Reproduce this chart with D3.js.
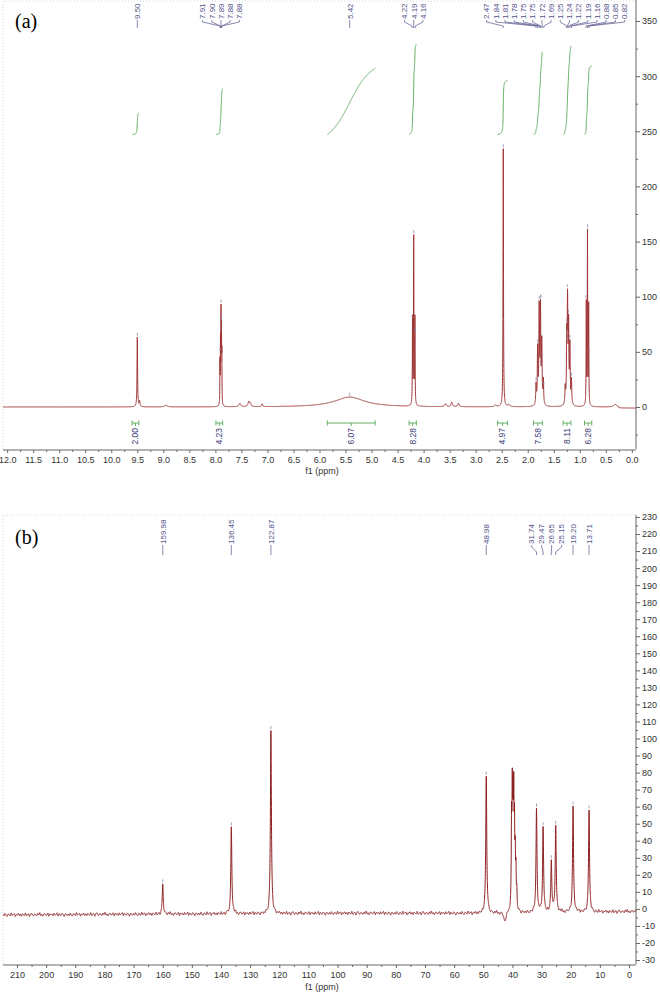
<!DOCTYPE html>
<html>
<head>
<meta charset="utf-8">
<script src="https://cdn.jsdelivr.net/npm/d3@7"></script>
<style>
body { margin: 0; background: #fff; }
svg { display: block; }
.ax text { font-family: "Liberation Sans", Arial, sans-serif; font-size: 9px; fill: #333; }
.ax line { stroke: #666; }
.plab { font-family: "Liberation Sans", Arial, sans-serif; font-size: 8px; fill: #50508a; }
</style>
</head>
<body>
<svg width="660" height="992"></svg>
<script>
// ---- (a) 1H spectrum: lines (ppm, height, half width) ----
var hPpm    = [9.50, 9.455, 8.95, 7.912, 7.902, 7.892, 7.883, 7.876, 7.53, 7.36, 7.33, 7.10, 5.42,
               4.213, 4.19, 4.167, 3.58, 3.46, 3.33, 2.62, 2.47, 2.36,
               1.84, 1.81, 1.78, 1.755, 1.73, 1.70, 1.28, 1.25, 1.235, 1.215, 1.19, 1.16,
               0.875, 0.852, 0.829, 0.32];
var hHeight = [63, 5, 1.5, 38, 55, 80, 62, 42, 3, 4.5, 3, 2.5, 9,
               78, 151, 78, 2.5, 4, 3, 1.5, 234, 2,
               18, 50, 86, 86, 55, 22, 15, 55, 88, 68, 52, 22,
               92, 156, 90, 2.5];
var hWidth  = [0.006, 0.008, 0.03, 0.003, 0.003, 0.003, 0.003, 0.003, 0.02, 0.015, 0.015, 0.01, 0.35,
               0.004, 0.004, 0.004, 0.02, 0.015, 0.015, 0.02, 0.005, 0.02,
               0.007, 0.007, 0.007, 0.007, 0.007, 0.007, 0.007, 0.007, 0.007, 0.007, 0.007, 0.007,
               0.004, 0.004, 0.004, 0.03];
var hLabels = ["9.50", "7.91", "7.90", "7.89", "7.88", "7.88", "5.42", "4.22", "4.19", "4.16",
               "2.47", "1.84", "1.81", "1.78", "1.75", "1.75", "1.72", "1.69",
               "1.25", "1.24", "1.22", "1.19", "1.16", "0.88", "0.85", "0.82"];
var intFrom = [9.60, 7.99, 5.85, 4.28, 2.58, 1.89, 1.32, 0.91];
var intTo   = [9.47, 7.86, 4.93, 4.14, 2.39, 1.72, 1.17, 0.77];
var intVal  = [2.00, 4.23, 6.07, 8.28, 4.97, 7.58, 8.11, 6.28];

// ---- (b) 13C spectrum ----
var cPpm    = [159.98, 136.45, 122.87, 48.98, 42.6,
               40.3, 40.05, 39.8, 39.55, 39.3, 39.05, 38.8, 38.5,
               31.74, 29.47, 26.65, 25.15, 19.20, 13.71];
var cHeight = [17.5, 51, 108, 81, -6,
               48, 62, 52, 58, 42, 28, 20, 10,
               60, 50, 30, 51, 62, 60];
var cWidth  = [0.2, 0.2, 0.2, 0.2, 0.4,
               0.12, 0.12, 0.12, 0.12, 0.12, 0.12, 0.12, 0.12,
               0.2, 0.2, 0.2, 0.2, 0.2, 0.2];
var cLabels = ["159.98", "136.45", "122.87", "48.98", "31.74", "29.47", "26.65", "25.15", "19.20", "13.71"];
var cBasePpm = [214.8, 160, 100, 50, 0, -2.4];
var cBaseVal = [-3.5, -3, -2.5, -2.5, -1.5, -1.5];
var cNoise = [0.4, -0.8, 1.1, -0.3, -1.2, 0.6, 0.2, -0.9, 1.4, -0.5, 0.1, 0.9, -1.3, 0.3, -0.2, 1.0,
              -0.7, 0.5, -1.1, 0.8, -0.1, -0.6, 1.3, -0.9, 0.2, 0.7, -1.4, 0.4, 1.2, -0.4, -0.8, 0.6,
              0.0, -1.0, 0.9, -0.3, 1.5, -0.7, 0.3, -1.2, 0.5, 0.8, -0.5, -0.2, 1.1, -1.3, 0.6, -0.1,
              0.4, -0.9, 1.0, -0.6, 0.2, 1.3, -1.1, 0.7, -0.4, -0.7, 0.9, 0.1, -1.5, 0.5, 0.3, -0.8];

var svg = d3.select("svg");

var xA = d3.scaleLinear().domain([12.08, -0.08]).range([3, 636]),
    yA = d3.scaleLinear().domain([0, 350]).range([407, 21]);
var xB = d3.scaleLinear().domain([214.8, -2.4]).range([3, 636]),
    yB = d3.scaleLinear().domain([-30, 230]).range([960, 517]);

function lorentz(p, pos, h, w) {
    var s = 0;
    for (var i = 0; i < pos.length; i++) {
        var d = p - pos[i];
        s += h[i] * w[i] * w[i] / (d * d + w[i] * w[i]);
    }
    return s;
}

// sample the spectra
var specA = [];
for (var p = 12.08; p >= -0.08; p -= 0.001) {
    var base = p < 0.25 ? -1 : 0;
    specA.push([p, lorentz(p, hPpm, hHeight, hWidth) + base]);
}
var baseB = d3.scaleLinear().domain(cBasePpm).range(cBaseVal);
function noiseAt(p) {
    var t = (214.8 - p) / 0.35, i = Math.floor(t), f = t - i, n = cNoise.length;
    return cNoise[i % n] * (1 - f) + cNoise[(i + 1) % n] * f;
}
var specB = [];
for (var q = 214.8; q >= -2.4; q -= 0.02) {
    specB.push([q, lorentz(q, cPpm, cHeight, cWidth) + baseB(q) + 0.8 * noiseAt(q)]);
}

// frames (light dotted)
function frame(x0, y0, x1, y1) {
    svg.append("path")
        .attr("d", "M" + x0 + "," + y1 + "V" + y0 + "H" + x1)
        .attr("fill", "none").attr("stroke", "#d8d8d8").attr("stroke-dasharray", "1,2");
}
frame(3, 1, 636, 449);
frame(3, 515, 636, 964);

// spectra
svg.append("path").datum(specA)
    .attr("fill", "none").attr("stroke", "#a03535").attr("stroke-width", 1)
    .attr("d", d3.line().x(function(d) { return xA(d[0]); }).y(function(d) { return yA(d[1]); }));
svg.append("path").datum(specB)
    .attr("fill", "none").attr("stroke", "#8e1f1f").attr("stroke-width", 1)
    .attr("d", d3.line().x(function(d) { return xB(d[0]); }).y(function(d) { return yB(d[1]); }));

// integrals (a)
var intBase = 247, intScale = 9.9;
intVal.forEach(function(v, i) {
    var pts = specA.filter(function(d) { return d[0] <= intFrom[i] && d[0] >= intTo[i]; });
    var tot = d3.sum(pts, function(d) { return Math.max(d[1], 0); }), cum = 0;
    var curve = pts.map(function(d) {
        cum += Math.max(d[1], 0);
        return [d[0], intBase + cum / tot * v * intScale];
    });
    svg.append("path").datum(curve)
        .attr("fill", "none").attr("stroke", "#62b062").attr("stroke-width", 1)
        .attr("d", d3.line().x(function(d) { return xA(d[0]); }).y(function(d) { return yA(d[1]); }));

    var x0 = xA(intFrom[i]), x1 = xA(intTo[i]), cx = (x0 + x1) / 2;
    svg.append("path")
        .attr("d", "M" + x0 + ",420.5V425.5M" + x0 + ",423H" + x1 + "M" + x1 + ",420.5V425.5M" + cx + ",423V426")
        .attr("fill", "none").attr("stroke", "#62b062").attr("stroke-width", 1);
    svg.append("text").attr("class", "plab")
        .attr("transform", "translate(" + cx + ",428) rotate(-90)")
        .attr("text-anchor", "end").attr("dy", "0.35em")
        .style("fill", "#3d3d78").style("font-size", "8.5px")
        .text(v.toFixed(2));
});

// peak label placement: spread overlapping labels, centred on their peaks
function placeLabels(xs, gap, maxX) {
    var cl = xs.map(function(x) { return {n: 1, sum: x}; });
    var merged = true;
    while (merged) {
        merged = false;
        for (var k = 1; k < cl.length; k++) {
            var a = cl[k - 1], b = cl[k];
            var aR = a.sum / a.n + (a.n - 1) * gap / 2,
                bL = b.sum / b.n - (b.n - 1) * gap / 2;
            if (bL - aR < gap) { a.n += b.n; a.sum += b.sum; cl.splice(k, 1); merged = true; break; }
        }
    }
    var out = [];
    cl.forEach(function(c) {
        var s = c.sum / c.n - (c.n - 1) * gap / 2, e = s + (c.n - 1) * gap;
        if (e > maxX) s -= e - maxX;
        for (var j = 0; j < c.n; j++) out.push(s + j * gap);
    });
    return out;
}

function peakLabels(labels, xs, yv, gap, yText, y1, y2, y3, yScale) {
    var lx = placeLabels(xs, gap, 626);
    labels.forEach(function(t, i) {
        svg.append("path")
            .attr("d", "M" + lx[i] + "," + yText + "V" + y1 + "L" + xs[i] + "," + y2 + "V" + y3)
            .attr("fill", "none").attr("stroke", "#6a6a9a").attr("stroke-width", 0.8);
        svg.append("text").attr("class", "plab")
            .attr("transform", "translate(" + lx[i] + "," + (yText - 1) + ") rotate(-90)")
            .attr("dy", "0.35em")
            .text("" + t);
        // little marker above the peak top
        var yt = yScale(yv[i]);
        svg.append("line")
            .attr("x1", xs[i]).attr("x2", xs[i]).attr("y1", yt - 1.5).attr("y2", yt - 4.5)
            .attr("stroke", "#8a8ab0").attr("stroke-width", 0.8);
    });
}

var hx = hLabels.map(function(t) { return xA(+t); });
var hy = hLabels.map(function(t) {
    var p = +t, m = 0;
    specA.forEach(function(d) { if (Math.abs(d[0] - p) < 0.006 && d[1] > m) m = d[1]; });
    return m;
});
peakLabels(hLabels, hx, hy, 9.2, 20, 22, 26, 28, yA);

var cx = cLabels.map(function(t) { return xB(+t); });
var cy = cLabels.map(function(t) {
    var p = +t, m = 0;
    specB.forEach(function(d) { if (Math.abs(d[0] - p) < 0.3 && d[1] > m) m = d[1]; });
    return m;
});
peakLabels(cLabels, cx, cy, 10, 545, 547, 552, 555, yB);

// axes
function axes(x, y, top, bottom, xMaj, xMin, xFmt, yMaj, yMin) {
    var gx = svg.append("g").attr("class", "ax").attr("transform", "translate(0," + bottom + ")");
    gx.append("line").attr("x1", 3).attr("x2", 636).attr("stroke", "#888");
    gx.append("g").call(d3.axisBottom(x).tickValues(xMaj).tickSize(3).tickPadding(4).tickFormat(xFmt))
        .call(function(g) { g.select(".domain").remove(); });
    gx.append("g").call(d3.axisBottom(x).tickValues(xMin).tickSize(2).tickFormat(""))
        .call(function(g) { g.select(".domain").remove(); });

    var gy = svg.append("g").attr("class", "ax").attr("transform", "translate(636,0)");
    gy.append("line").attr("y1", top).attr("y2", bottom - 1).attr("stroke", "#888");
    gy.append("g").call(d3.axisRight(y).tickValues(yMaj).tickSize(4).tickPadding(2).tickFormat(function(d) { return String(d); }))
        .call(function(g) { g.select(".domain").remove(); });
    gy.append("g").call(d3.axisRight(y).tickValues(yMin).tickSize(2).tickFormat(""))
        .call(function(g) { g.select(".domain").remove(); });
}
axes(xA, yA, 0, 450, d3.range(0, 12.01, 0.5), d3.range(0.25, 12, 0.5), d3.format(".1f"),
     d3.range(0, 351, 50), d3.range(-25, 351, 50));
axes(xB, yB, 515, 965, d3.range(0, 211, 10), d3.range(5, 215, 10), d3.format("d"),
     d3.range(-30, 231, 10), d3.range(-25, 231, 10));

svg.append("text").attr("x", 322).attr("y", 474).attr("text-anchor", "middle")
    .style("font-family", "Liberation Sans, Arial, sans-serif").style("font-size", "9px").style("fill", "#333")
    .text("f1 (ppm)");
svg.append("text").attr("x", 322).attr("y", 990).attr("text-anchor", "middle")
    .style("font-family", "Liberation Sans, Arial, sans-serif").style("font-size", "9px").style("fill", "#333")
    .text("f1 (ppm)");

// panel letters
svg.append("text").attr("x", 15).attr("y", 28)
    .style("font-family", "Liberation Serif, Times New Roman, serif").style("font-size", "20px")
    .text("(a)");
svg.append("text").attr("x", 15).attr("y", 544)
    .style("font-family", "Liberation Serif, Times New Roman, serif").style("font-size", "20px")
    .text("(b)");
</script>
</body>
</html>
